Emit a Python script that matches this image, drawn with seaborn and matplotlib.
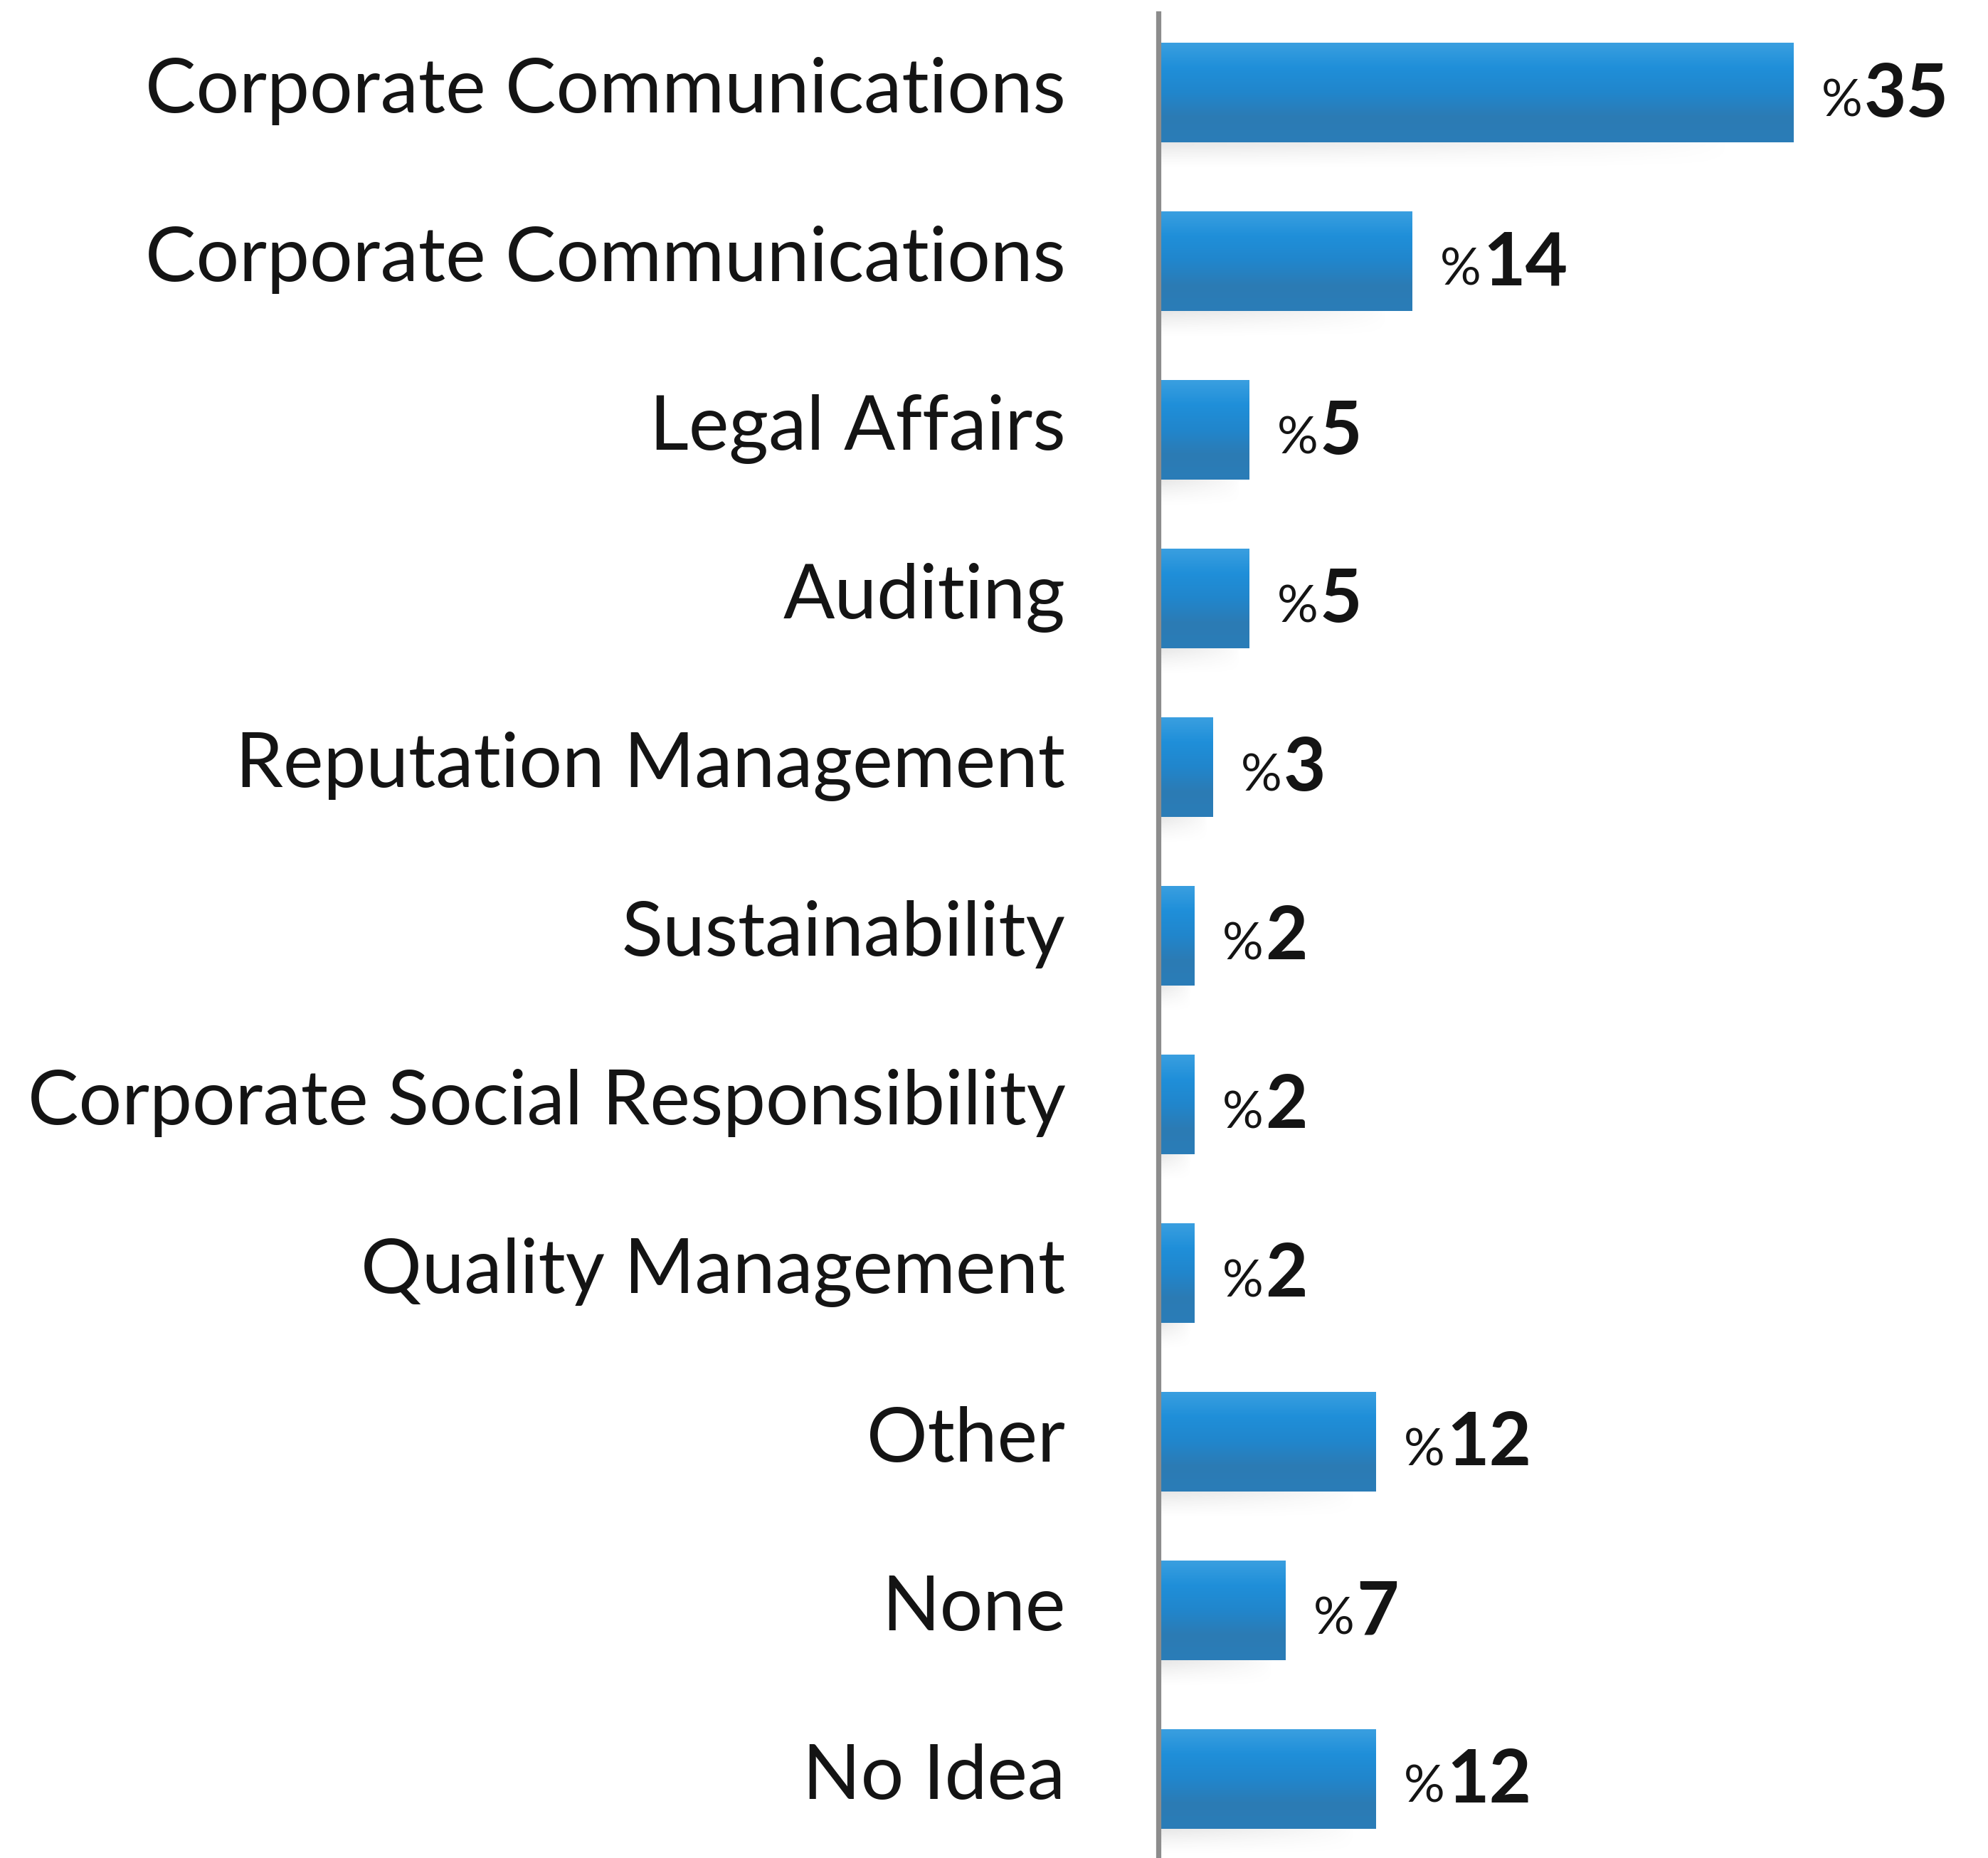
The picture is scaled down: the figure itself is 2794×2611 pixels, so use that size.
import numpy as np
import pandas as pd
import matplotlib
matplotlib.use("Agg")
import matplotlib.pyplot as plt
import matplotlib.transforms as mtransforms
from matplotlib.colors import LinearSegmentedColormap
import seaborn as sns

# Survey answers: department responsible (share of respondents, %)
categories = [
    "Corporate Communications",
    "Corporate Communications",
    "Legal Affairs",
    "Auditing",
    "Reputation Management",
    "Sustainability",
    "Corporate Social Responsibility",
    "Quality Management",
    "Other",
    "None",
    "No Idea",
]
values = [35, 14, 5, 5, 3, 2, 2, 2, 12, 7, 12]

slots = list(range(len(categories)))
df = pd.DataFrame({"slot": slots, "share": values})

sns.set_theme(style="white")
plt.rcParams["font.family"] = ["Lato", "DejaVu Sans"]

W, H, DPI = 2794, 2611, 200
fig = plt.figure(figsize=(W / DPI, H / DPI), dpi=DPI)
fig.patch.set_facecolor("white")
axis_x = 1628
ax = fig.add_axes([axis_x / W, 0, (W - axis_x) / W, 1])
ax.set_facecolor("white")

sns.barplot(data=df, x="share", y="slot", orient="h", color="#2488CB",
            width=0.59, saturation=1, ax=ax, linewidth=0)

# vertical gradient fill on each bar
grad_cmap = LinearSegmentedColormap.from_list(
    "bar", ["#3A9FE0", "#1F8FD9", "#2186CC", "#2C7BB4", "#2A7DB8"])
grad = np.linspace(0, 1, 256).reshape(-1, 1)

# faint shadow: grey fading downwards and towards the right
sh_rows = np.linspace(1, 0, 64).reshape(-1, 1) ** 1.5
sh_cols = np.linspace(1, 0, 128).reshape(1, -1) ** 0.7
shadow = np.zeros((64, 128, 4))
shadow[..., :3] = 0.55
shadow[..., 3] = 0.22 * sh_rows * sh_cols

bars = list(ax.patches)
for patch in bars:
    x0, y0 = patch.get_x(), patch.get_y()
    w, h = patch.get_width(), patch.get_height()
    im = ax.imshow(grad, cmap=grad_cmap, aspect="auto",
                   extent=(x0, x0 + w, y0 + h, y0), origin="upper", zorder=2)
    im.set_clip_path(patch)
    ax.imshow(shadow, aspect="auto", origin="upper", zorder=1,
              extent=(x0, x0 + w * 0.9, y0 + h + 0.16, y0 + h), interpolation="bilinear")

ax.set_xlim(0, (W - axis_x) / 25.5)
ax.set_ylim(10.47, -0.55)

ax.set_xticks([])
ax.set_xlabel("")
ax.set_ylabel("")
ax.set_yticks(slots)
ax.set_yticklabels(categories, fontsize=38.5, color="#141414")
ax.tick_params(axis="y", length=0, pad=47)
lift = mtransforms.ScaledTranslation(0, 4 / 72, fig.dpi_scale_trans)
for lbl in ax.get_yticklabels():
    lbl.set_transform(lbl.get_transform() + lift)

for side in ["top", "right", "bottom"]:
    ax.spines[side].set_visible(False)
ax.spines["left"].set_color("#8C8C8C")
ax.spines["left"].set_linewidth(2.6)
ax.spines["left"].set_bounds(10.47, -0.47)
ax.spines["left"].set_zorder(3)

# value labels: small "%" followed by a bold number
for i, v in enumerate(values):
    pct = ax.annotate("%", xy=(v, i), xytext=(14, -12), textcoords="offset points",
                      ha="left", va="baseline", fontsize=26, color="#141414",
                      annotation_clip=False)
    ax.annotate(str(v), xy=(1, i), xycoords=(pct, "data"), xytext=(1, -12),
                textcoords="offset points", ha="left", va="baseline",
                fontsize=37, fontweight="bold", color="#141414",
                annotation_clip=False)

fig.savefig("out.png", dpi=DPI, facecolor="white")
